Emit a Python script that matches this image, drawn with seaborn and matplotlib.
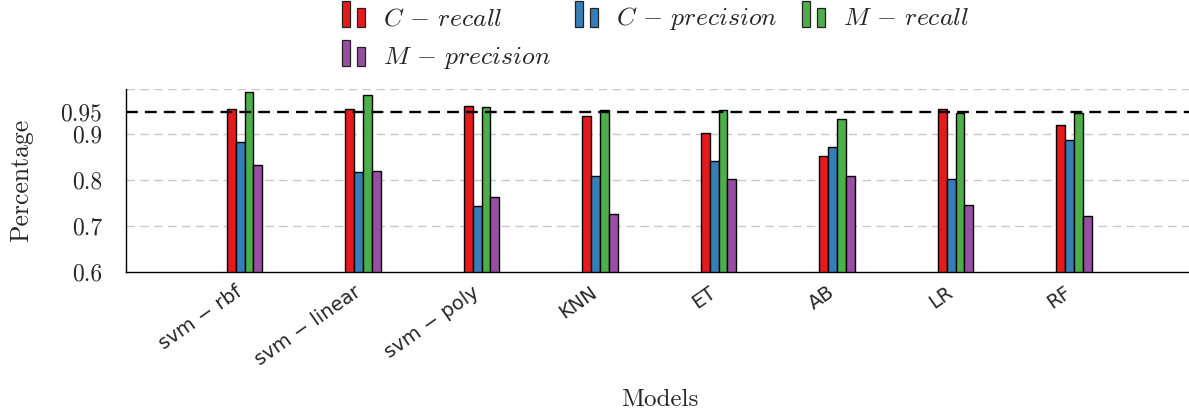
import numpy as np
import pandas as pd
import matplotlib
matplotlib.use("Agg")
import matplotlib.pyplot as plt
import matplotlib.transforms as mtransforms
import seaborn as sns
from matplotlib.legend_handler import HandlerBase
from matplotlib.patches import Rectangle

# ---- data ----
models = ["svm − rbf", "svm − linear", "svm − poly", "KNN", "ET", "AB", "LR", "RF"]
c_recall = [0.955, 0.955, 0.963, 0.941, 0.903, 0.852, 0.955, 0.920]
c_precision = [0.884, 0.818, 0.744, 0.809, 0.842, 0.872, 0.802, 0.887]
m_recall = [0.993, 0.987, 0.960, 0.954, 0.954, 0.934, 0.947, 0.947]
m_precision = [0.834, 0.820, 0.764, 0.725, 0.802, 0.810, 0.745, 0.721]
metrics = [r"$C\,-\,recall$", r"$C\,-\,precision$", r"$M\,-\,recall$", r"$M\,-\,precision$"]
threshold = 0.95
y_ticks = [0.6, 0.7, 0.8, 0.9, 0.95]
y_tick_labels = ["0.6", "0.7", "0.8", "0.9", "0.95"]
grid_levels = [0.7, 0.8, 0.9, 1.0]
colors = ["#e41a1c", "#377eb8", "#4daf4a", "#984ea3"]

rows = []
for vals, met in zip([c_recall, c_precision, m_recall, m_precision], metrics):
    for mod, v in zip(models, vals):
        rows.append({"Model": mod, "Metric": met, "Value": v})
df = pd.DataFrame(rows)

sns.set_theme(style="white")
plt.rcParams["font.family"] = ["cmr10", "DejaVu Serif"]
plt.rcParams["mathtext.fontset"] = "cm"
plt.rcParams["axes.formatter.use_mathtext"] = True

fig = plt.figure(figsize=(11.89, 4.12), dpi=100)
ax = fig.add_axes([0.106, 0.341, 0.897, 0.4437])

for g in grid_levels:
    ax.axhline(g, color="#c8c8c8", lw=1.0, ls=(0, (6, 4)), zorder=0)

sns.barplot(data=df, x="Model", y="Value", hue="Metric", order=models,
            hue_order=metrics, palette=colors, width=0.3, gap=0,
            saturation=1, edgecolor="black", linewidth=1.0, ax=ax,
            legend=False, zorder=2)

ax.axhline(threshold, color="black", lw=1.7, ls=(0, (5, 3)), zorder=4)

ax.set_xlim(-1, 8)
ax.set_ylim(0.6, 1.0)
ax.set_yticks(y_ticks)
ax.set_yticklabels(y_tick_labels, fontsize=17)
ax.tick_params(axis="y", length=0, pad=17)
ax.tick_params(axis="x", length=0, pad=8)
ax.set_xticks(range(len(models)))
ax.set_xticklabels(models, rotation=35, ha="right", rotation_mode="anchor",
                   fontsize=14, family="DejaVu Sans")
offset = mtransforms.ScaledTranslation(-10 / 100, 0, fig.dpi_scale_trans)
for lbl in ax.get_xticklabels():
    lbl.set_transform(lbl.get_transform() + offset)

for s in ["top", "right"]:
    ax.spines[s].set_visible(False)
for s in ["left", "bottom"]:
    ax.spines[s].set_color("black")
    ax.spines[s].set_linewidth(1.0)

ax.set_ylabel("Percentage", fontsize=18.5)
ax.yaxis.set_label_coords(-0.087, 0.5)
ax.set_xlabel("Models", fontsize=18)
ax.xaxis.set_label_coords(0.5, -0.64)


class TwoBarHandler(HandlerBase):
    def create_artists(self, legend, orig_handle, xdescent, ydescent,
                       width, height, fontsize, trans):
        fc = orig_handle.get_facecolor()
        bw = width * 0.35
        base = -ydescent - 0.08 * fontsize
        r1 = Rectangle((-xdescent, base), bw, 1.02 * fontsize, facecolor=fc,
                       edgecolor="#222222", lw=0.9, transform=trans)
        r2 = Rectangle((-xdescent + width * 0.65, base), bw, 0.75 * fontsize,
                       facecolor=fc, edgecolor="#222222", lw=0.9, transform=trans)
        return [r1, r2]


handles = [Rectangle((0, 0), 1, 1, facecolor=c) for c in colors]
order = [0, 3, 1, 2]
fig.legend([handles[i] for i in order], [metrics[i] for i in order],
           handler_map={Rectangle: TwoBarHandler()}, ncol=3,
           loc="upper left", bbox_to_anchor=(342 / 1189, 1 - 5 / 412),
           frameon=False, fontsize=18.5, handlelength=0.9, handletextpad=0.7,
           columnspacing=0.95, labelspacing=0.6, borderpad=0, borderaxespad=0)

fig.savefig("out.png", dpi=100)
